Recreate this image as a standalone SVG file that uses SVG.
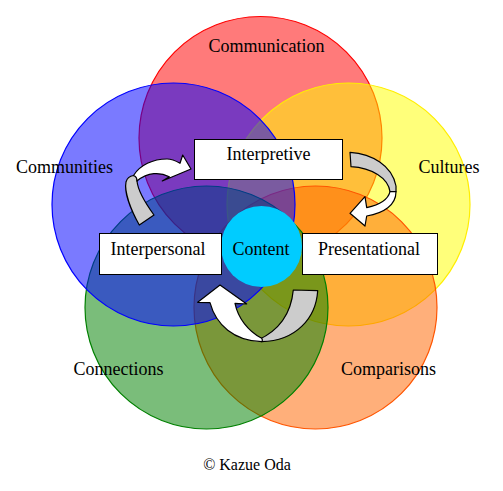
<svg xmlns="http://www.w3.org/2000/svg" width="503" height="491" viewBox="0 0 503 491">
<style>
.c{fill-opacity:0.52;stroke-width:1.2}
.lbl{font-family:"Liberation Serif","Times New Roman",serif;font-size:18px;fill:#000;text-anchor:middle}
.box{fill:#fff;stroke:#000;stroke-width:1}
.ag{fill:#cccccc;stroke:#000;stroke-width:1.2;stroke-linejoin:round}
.aw{fill:#fff;stroke:#000;stroke-width:1.2;stroke-linejoin:round}
</style>
<rect width="503" height="491" fill="#fff"/>
<g id="circles">
<g id="communication"><circle class="c" cx="260.5" cy="138" r="121.5" fill="#ff0000" stroke="#ff0000"/></g>
<g id="cultures"><circle class="c" cx="348.5" cy="204.5" r="121.5" fill="#ffff00" stroke="#ffee00"/></g>
<g id="comparisons"><circle class="c" cx="315.5" cy="307.5" r="121.5" fill="#ff6600" stroke="#ff5500"/></g>
<g id="connections"><circle class="c" cx="206.5" cy="307.5" r="121.5" fill="#008000" stroke="#008000"/></g>
<g id="communities"><circle class="c" cx="173.5" cy="204.5" r="121.5" fill="#0000ff" stroke="#0000ff"/></g>
</g>
<g id="content"><circle cx="261.5" cy="246.5" r="40.5" fill="#00ccff"/><text class="lbl" x="261" y="255">Content</text></g>
<g id="interpretive"><rect class="box" x="194.5" y="139.5" width="148" height="40"/><text class="lbl" x="268.5" y="160">Interpretive</text></g>
<g id="interpersonal"><rect class="box" x="99.5" y="233.5" width="122" height="41"/><text class="lbl" x="158" y="255">Interpersonal</text></g>
<g id="presentational"><rect class="box" x="302.5" y="233.5" width="135" height="41"/><text class="lbl" x="369" y="255">Presentational</text></g>
<g id="connectors">
<g id="arrow-left">
<path class="ag" d="M139.3,225 C131,210 124,192 126,182 C127,178 130,176 133.5,175.5 C136,176 137,178 137,181 C138,192 146,204 154,215 Z"/>
<path class="aw" d="M133.5,175.5 C140,165 153,159 167,159 C172,159 176,161 180,163.3 L182.7,155 L191,169 L162.3,181 L169.3,176.7 C160,172 148,172 137,181 C137,178 136,176 133.5,175.5 Z"/>
</g>
<g id="arrow-right">
<path class="ag" d="M350,152.3 C372,154 392,165 396,186 L396,191.7 L390,191.7 C388,178 372,168 351,166.7 Z"/>
<path class="aw" d="M390,191.7 C388,200 379,205 366.7,207.7 L365,196.7 L350,213.3 L365,226 L366.7,216 C384,213 396,205 396,191.7 Z"/>
</g>
<g id="arrow-bottom">
<path class="ag" d="M293.3,290 L317.7,290.7 C316,318 296,341 261.7,341.7 L258,340 C280,330 291,314 293.3,290 Z"/>
<path class="aw" d="M210,302.7 L197.7,302.3 L220,285 L246.7,304 L235,303.3 C238,318 248,331 261.7,338.3 C263,340 262,341.5 261.7,341.7 C234,341 216,325 210,302.7 Z"/>
</g>
</g>
<g id="labels">
<text class="lbl" x="266.5" y="52">Communication</text>
<text class="lbl" x="64.5" y="173">Communities</text>
<text class="lbl" x="449" y="173">Cultures</text>
<text class="lbl" x="118.5" y="375">Connections</text>
<text class="lbl" x="388.5" y="375">Comparisons</text>
<text class="lbl" x="247" y="470" style="font-size:16px">© Kazue Oda</text>
</g>
</svg>
